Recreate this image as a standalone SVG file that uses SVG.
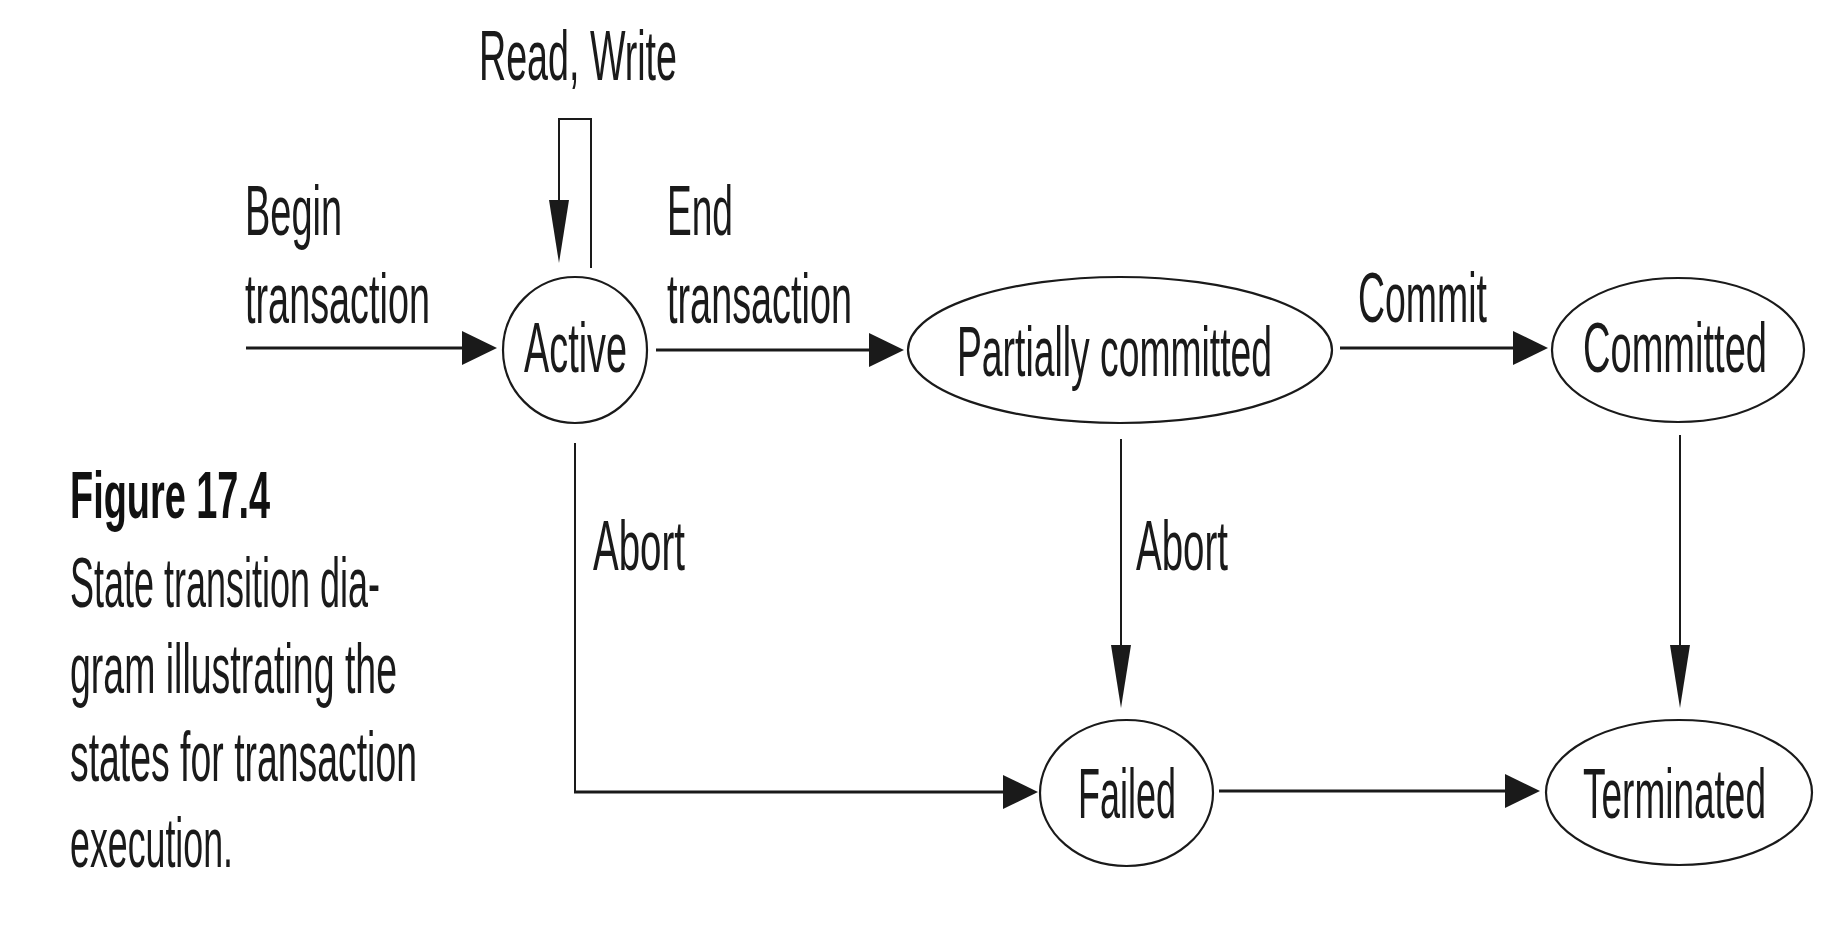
<svg xmlns="http://www.w3.org/2000/svg" width="1821" height="927" viewBox="0 0 1821 927">
<style>
  .bg { fill: #ffffff; }
  .node { fill: #ffffff; stroke: #1a1a1a; stroke-width: 2.2; }
  .lbl { font-family: "Liberation Sans", Arial, sans-serif; font-size: 71px; fill: #1a1a1a; }
  .cap { font-family: "Liberation Sans", Arial, sans-serif; font-size: 71px; fill: #1a1a1a; }
  .capb { font-family: "Liberation Sans", Arial, sans-serif; font-size: 66px; font-weight: bold; fill: #111111; }
  .h { fill: none; stroke: #1a1a1a; stroke-width: 3; }
  .v { fill: none; stroke: #1a1a1a; stroke-width: 2; }
</style>
<defs>
  <marker id="ah" markerUnits="userSpaceOnUse" markerWidth="36" markerHeight="34" refX="0" refY="17" orient="auto" overflow="visible">
    <path d="M0,0 L35,17 L0,34 z" fill="#1a1a1a"/>
  </marker>
  <marker id="av" markerUnits="userSpaceOnUse" markerWidth="64" markerHeight="20" refX="0" refY="10" orient="auto" overflow="visible">
    <path d="M0,0 L63,10 L0,20 z" fill="#1a1a1a"/>
  </marker>
</defs>
<rect class="bg" x="0" y="0" width="1821" height="927"/>

<g id="connectors">
  <path class="h" d="M246,348 H462" marker-end="url(#ah)"/>
  <path class="v" d="M591,268 V119 H559 V200" marker-end="url(#av)"/>
  <path class="h" d="M656,350 H869" marker-end="url(#ah)"/>
  <path class="h" d="M1340,348 H1513" marker-end="url(#ah)"/>
  <path class="v" d="M575,443 V792" />
  <path class="h" d="M574,792 H1003" marker-end="url(#ah)"/>
  <path class="v" d="M1121,439 V645" marker-end="url(#av)"/>
  <path class="v" d="M1680,435 V645" marker-end="url(#av)"/>
  <path class="h" d="M1219,791 H1505" marker-end="url(#ah)"/>
</g>

<g id="connector-labels">
  <text class="lbl" x="479" y="80" textLength="198" lengthAdjust="spacingAndGlyphs">Read, Write</text>
  <text class="lbl" x="245" y="235" textLength="97" lengthAdjust="spacingAndGlyphs">Begin</text>
  <text class="lbl" x="245" y="323" textLength="185" lengthAdjust="spacingAndGlyphs">transaction</text>
  <text class="lbl" x="667" y="235" textLength="66" lengthAdjust="spacingAndGlyphs">End</text>
  <text class="lbl" x="667" y="323" textLength="185" lengthAdjust="spacingAndGlyphs">transaction</text>
  <text class="lbl" x="1358" y="322" textLength="129" lengthAdjust="spacingAndGlyphs">Commit</text>
  <text class="lbl" x="593" y="570" textLength="92" lengthAdjust="spacingAndGlyphs">Abort</text>
  <text class="lbl" x="1136" y="570" textLength="92" lengthAdjust="spacingAndGlyphs">Abort</text>
</g>

<g id="active">
  <ellipse class="node" cx="575" cy="350" rx="72" ry="73"/>
  <text class="lbl" x="524" y="372" textLength="103" lengthAdjust="spacingAndGlyphs">Active</text>
</g>
<g id="partially-committed">
  <ellipse class="node" cx="1120" cy="350" rx="212" ry="73"/>
  <text class="lbl" x="957" y="376" textLength="315" lengthAdjust="spacingAndGlyphs">Partially committed</text>
</g>
<g id="committed">
  <ellipse class="node" cx="1678" cy="350" rx="126" ry="72"/>
  <text class="lbl" x="1583" y="372" textLength="184" lengthAdjust="spacingAndGlyphs">Committed</text>
</g>
<g id="failed">
  <ellipse class="node" cx="1126.5" cy="793" rx="86.5" ry="73"/>
  <text class="lbl" x="1078" y="818" textLength="98" lengthAdjust="spacingAndGlyphs">Failed</text>
</g>
<g id="terminated">
  <ellipse class="node" cx="1679" cy="792.5" rx="133" ry="72.5"/>
  <text class="lbl" x="1583" y="818" textLength="183" lengthAdjust="spacingAndGlyphs">Terminated</text>
</g>

<g id="caption">
  <text class="capb" x="70" y="518" textLength="200" lengthAdjust="spacingAndGlyphs">Figure 17.4</text>
  <text class="cap" x="70" y="607" textLength="310" lengthAdjust="spacingAndGlyphs">State transition dia-</text>
  <text class="cap" x="70" y="693" textLength="327" lengthAdjust="spacingAndGlyphs">gram illustrating the</text>
  <text class="cap" x="70" y="781" textLength="347" lengthAdjust="spacingAndGlyphs">states for transaction</text>
  <text class="cap" x="70" y="867" textLength="163" lengthAdjust="spacingAndGlyphs">execution.</text>
</g>
</svg>
